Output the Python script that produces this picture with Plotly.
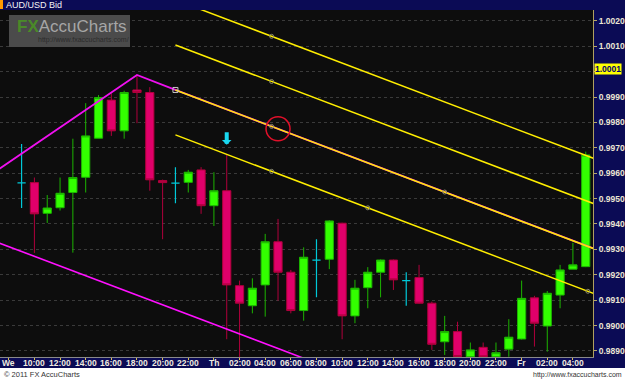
import plotly.graph_objects as go
import pandas as pd
import numpy as np

# ---------------- data ----------------
start_time = "2011-03-09 09:00"   # Wednesday 09:00, hourly candles
opens = [0.99562, 0.99563, 0.99442, 0.99464, 0.99524, 0.99584, 0.99738, 0.99888, 0.99767, 0.99928,
         0.99918, 0.99571, 0.99561, 0.99564, 0.99613, 0.99472, 0.99531, 0.99157, 0.99078, 0.99160,
         0.99330, 0.99210, 0.99059, 0.99258, 0.99261, 0.99403, 0.99038, 0.99149, 0.99210, 0.99258,
         0.99177, 0.99189, 0.99088, 0.98936, 0.98976, 0.98877, 0.98914, 0.98877, 0.98907, 0.98947,
         0.99109, 0.98998, 0.99120, 0.99222, 0.99232]
highs = [0.99715, 0.99583, 0.99514, 0.99583, 0.99736, 0.99876, 0.99908, 0.99915, 0.99925, 0.99987,
         0.99939, 0.99575, 0.99624, 0.99613, 0.99624, 0.99604, 0.99672, 0.99177, 0.99186, 0.99361,
         0.99420, 0.99219, 0.99308, 0.99340, 0.99415, 0.99405, 0.99180, 0.99230, 0.99260, 0.99260,
         0.99210, 0.99239, 0.99094, 0.99038, 0.99015, 0.98933, 0.98933, 0.98933, 0.99025, 0.99177,
         0.99117, 0.99136, 0.99239, 0.99326, 0.99685]
lows = [0.99463, 0.99286, 0.99404, 0.99453, 0.99287, 0.99524, 0.99738, 0.99747, 0.99736, 0.99797,
        0.99531, 0.99340, 0.99482, 0.99524, 0.99440, 0.99392, 0.98946, 0.98860, 0.99048, 0.99035,
        0.99098, 0.99048, 0.99019, 0.99111, 0.99222, 0.98946, 0.99009, 0.99068, 0.99111, 0.99140,
        0.99078, 0.99086, 0.98904, 0.98884, 0.98870, 0.98870, 0.98870, 0.98870, 0.98877, 0.98945,
        0.98917, 0.98897, 0.99068, 0.99222, 0.99230]
closes = [0.99562, 0.99440, 0.99463, 0.99521, 0.99583, 0.99747, 0.99898, 0.99767, 0.99918, 0.99918,
          0.99574, 0.99563, 0.99561, 0.99604, 0.99472, 0.99531, 0.99160, 0.99088, 0.99147, 0.99330,
          0.99210, 0.99059, 0.99269, 0.99258, 0.99412, 0.99038, 0.99147, 0.99210, 0.99258, 0.99180,
          0.99177, 0.99088, 0.98926, 0.98976, 0.98878, 0.98904, 0.98877, 0.98893, 0.98954, 0.99107,
          0.99009, 0.99127, 0.99219, 0.99239, 0.99672]

# trend lines
magenta_upper_times = ["2011-03-09 07:00", "2011-03-09 18:00", "2011-03-09 21:00", "2011-03-11 06:00"]
magenta_upper_prices = [0.99608, 0.99987, 0.99928, 0.99296]
magenta_lower_times = ["2011-03-09 07:00", "2011-03-10 08:00"]
magenta_lower_prices = [0.99330, 0.98852]
channel_times = ["2011-03-09 21:00", "2011-03-11 06:00"]
channel_start_prices = [1.00283, 1.00105, 0.99928, 0.99751]
channel_end_prices = [0.99651, 0.99473, 0.99296, 0.99119]
# small anchor markers on channel lines: (time, line index)
anchor_times = ["2011-03-10 04:30", "2011-03-10 04:30", "2011-03-10 04:30", "2011-03-10 04:30",
                "2011-03-10 18:00", "2011-03-10 12:00", "2011-03-11 05:10"]
anchor_lines = [0, 1, 2, 3, 2, 3, 3]
circle_time = "2011-03-10 05:00"
arrow_candle = 16
current_price = 1.0001

tick_times = pd.date_range("2011-03-09 08:00", "2011-03-11 04:00", freq="2h")
tick_labels = ["We", "10:00", "12:00", "14:00", "16:00", "18:00", "20:00", "22:00",
               "Th", "02:00", "04:00", "06:00", "08:00", "10:00", "12:00", "14:00", "16:00",
               "18:00", "20:00", "22:00", "Fr", "02:00", "04:00"]
price_ticks = [0.9890, 0.9900, 0.9910, 0.9920, 0.9930, 0.9940, 0.9950, 0.9960, 0.9970,
               0.9980, 0.9990, 1.0000, 1.0010, 1.0020]
price_labels = ["0.9890", "0.9900", "0.9910", "0.9920", "0.9930", "0.9940", "0.9950", "0.9960",
                "0.9970", "0.9980", "0.9990", "", "1.0010", "1.0020"]

# ---------------- figure ----------------
W, H = 625, 380
ML, MR, MT, MB = 0, 32, 10, 23
PW, PH = W - ML - MR, H - MT - MB


def px(xp):
    return (xp - ML) / PW


def py(yp):
    return (H - MB - yp) / PH


times = pd.date_range(start_time, periods=len(opens), freq="h")
n = len(opens)
main_idx = [i for i in range(n) if opens[i] != closes[i]]
doji_idx = [i for i in range(n) if opens[i] == closes[i]]

fig = go.Figure()

# lower magenta line
fig.add_trace(go.Scatter(x=pd.to_datetime(magenta_lower_times), y=magenta_lower_prices, mode="lines",
                         line=dict(color="#ff10ff", width=1.6), hoverinfo="skip"))
# upper magenta
fig.add_trace(go.Scatter(x=pd.to_datetime(magenta_upper_times), y=magenta_upper_prices, mode="lines",
                         line=dict(color="#f010f0", width=1.8), hoverinfo="skip"))

ct = pd.to_datetime(channel_times)
for k, (sp, ep) in enumerate(zip(channel_start_prices, channel_end_prices)):
    fig.add_trace(go.Scatter(x=ct, y=[sp, ep], mode="lines",
                             line=dict(color="#ffee00", width=1.6 if k == 2 else 1.5), hoverinfo="skip"))

fig.add_trace(go.Candlestick(
    x=times[main_idx],
    open=[opens[i] for i in main_idx], high=[highs[i] for i in main_idx],
    low=[lows[i] for i in main_idx], close=[closes[i] for i in main_idx],
    increasing=dict(line=dict(color="#1cb400", width=1), fillcolor="#33ff00"),
    decreasing=dict(line=dict(color="#b0003c", width=1), fillcolor="#e0006a"),
    whiskerwidth=0, hoverinfo="skip"))
fig.add_trace(go.Candlestick(
    x=times[doji_idx],
    open=[opens[i] for i in doji_idx], high=[highs[i] for i in doji_idx],
    low=[lows[i] for i in doji_idx], close=[closes[i] for i in doji_idx],
    increasing=dict(line=dict(color="#00c8d8", width=1.2), fillcolor="#00c8d8"),
    decreasing=dict(line=dict(color="#00c8d8", width=1.2), fillcolor="#00c8d8"),
    whiskerwidth=0, hoverinfo="skip"))

# anchor markers computed on channel lines
ct_num = ct.astype("int64").to_numpy().astype(float)
at = pd.to_datetime(anchor_times)
at_num = at.astype("int64").to_numpy().astype(float)
anchor_prices = [np.interp(t, ct_num, [channel_start_prices[k], channel_end_prices[k]])
                 for t, k in zip(at_num, anchor_lines)]
fig.add_trace(go.Scatter(x=at, y=anchor_prices, mode="markers",
                         marker=dict(symbol="circle-open", size=4, color="#8a8a70", line=dict(width=1)),
                         hoverinfo="skip"))
fig.add_trace(go.Scatter(x=[ct[0]], y=[channel_start_prices[2]], mode="markers",
                         marker=dict(symbol="square-open", size=5, color="#c8c8c8", line=dict(width=1)),
                         hoverinfo="skip"))

circ_t = pd.Timestamp(circle_time)
circ_p = float(np.interp(circ_t.value, ct_num, [channel_start_prices[2], channel_end_prices[2]]))

shapes = [
    # watermark box
    dict(type="rect", xref="paper", yref="paper", x0=px(9), x1=px(130), y0=py(47), y1=py(15),
         fillcolor="#4b4b4b", line=dict(width=0), layer="above"),
    # red circle
    dict(type="circle", xref="x", yref="y", xsizemode="pixel", ysizemode="pixel",
         xanchor=circ_t, yanchor=circ_p, x0=-12, x1=12, y0=-12, y1=12,
         line=dict(color="#e0102a", width=1.5)),
    # white footer strip
    dict(type="rect", xref="paper", yref="paper", x0=px(0), x1=px(W), y0=py(H), y1=py(368),
         fillcolor="#ffffff", line=dict(width=0), layer="below"),
    # orange marker in title bar
    dict(type="rect", xref="paper", yref="paper", x0=px(0), x1=px(3), y0=py(9), y1=py(0),
         fillcolor="#ff9a00", line=dict(width=0), layer="below"),
]

annotations = [
    dict(text="AUD/USD Bid", xref="paper", yref="paper", x=px(4), y=py(5), xanchor="left",
         yanchor="middle", showarrow=False, font=dict(family="Liberation Sans", size=9, color="#f4f4f4")),
    dict(text="<b><span style='color:#4a8a28'>FX</span></b><span style='color:#a6a6a6'>AccuCharts</span>",
         xref="paper", yref="paper", x=px(15), y=py(26), xanchor="left", yanchor="middle",
         showarrow=False, font=dict(family="Liberation Sans", size=17, color="#a6a6a6")),
    dict(text="http://www.fxaccucharts.com/", xref="paper", yref="paper", x=px(36), y=py(40),
         xanchor="left", yanchor="middle", showarrow=False,
         font=dict(family="Liberation Sans", size=7, color="#2c2c2c")),
    dict(text="© 2011 FX AccuCharts", xref="paper", yref="paper", x=px(2), y=py(374),
         xanchor="left", yanchor="middle", showarrow=False,
         font=dict(family="Liberation Sans", size=7.5, color="#333333")),
    dict(text="http://www.fxaccucharts.com", xref="paper", yref="paper", x=px(624), y=py(375),
         xanchor="right", yanchor="middle", showarrow=False,
         font=dict(family="Liberation Sans", size=7, color="#333333")),
    dict(text="<b>1.0001</b>", xref="paper", yref="y", x=px(594), y=current_price, xanchor="left",
         yanchor="middle", showarrow=False, bgcolor="#ffff00", borderpad=0,
         font=dict(family="Liberation Sans", size=8.5, color="#000070")),
    dict(x=times[arrow_candle], y=highs[arrow_candle] + 0.0004, xref="x", yref="y", text="",
         showarrow=True, ax=0, ay=-14, arrowhead=1, arrowsize=0.4, arrowwidth=4,
         arrowcolor="#19d8f0", standoff=0),
]
# time-axis labels inside the bottom band
for t, lab in zip(tick_times, tick_labels):
    annotations.append(dict(text=f"<b>{lab}</b>", xref="x", yref="paper", x=t, y=py(362.5),
                            xanchor="center", yanchor="middle", showarrow=False,
                            font=dict(family="Liberation Sans", size=8.5, color="#f0ece0")))

fig.update_layout(
    width=W, height=H,
    margin=dict(l=ML, r=MR, t=MT, b=MB, pad=0, autoexpand=False),
    paper_bgcolor="#0b0b55", plot_bgcolor="#0d0d0d",
    showlegend=False, boxgap=0.2, boxgroupgap=0.2,
    shapes=shapes, annotations=annotations,
    xaxis=dict(type="date", range=["2011-03-09 07:19", "2011-03-11 05:34"],
               rangeslider=dict(visible=False), showgrid=False, zeroline=False,
               tickvals=tick_times, showticklabels=False,
               ticks="outside", ticklen=2, tickcolor="#d8c050",
               showline=True, linecolor="#8a8a8a", linewidth=1, automargin=False),
    yaxis=dict(side="right", range=[0.98876, 1.00243], tickvals=price_ticks, ticktext=price_labels,
               showgrid=True, gridcolor="#3a3a3a", griddash="dot", gridwidth=1, zeroline=False,
               tickfont=dict(family="Liberation Sans", size=8.5, color="#ece6d4", weight="bold"),
               ticks="outside", ticklen=3, tickcolor="#b8a868",
               showline=True, linecolor="#b0a060", linewidth=1, automargin=False),
)

fig.write_html("out.html")
